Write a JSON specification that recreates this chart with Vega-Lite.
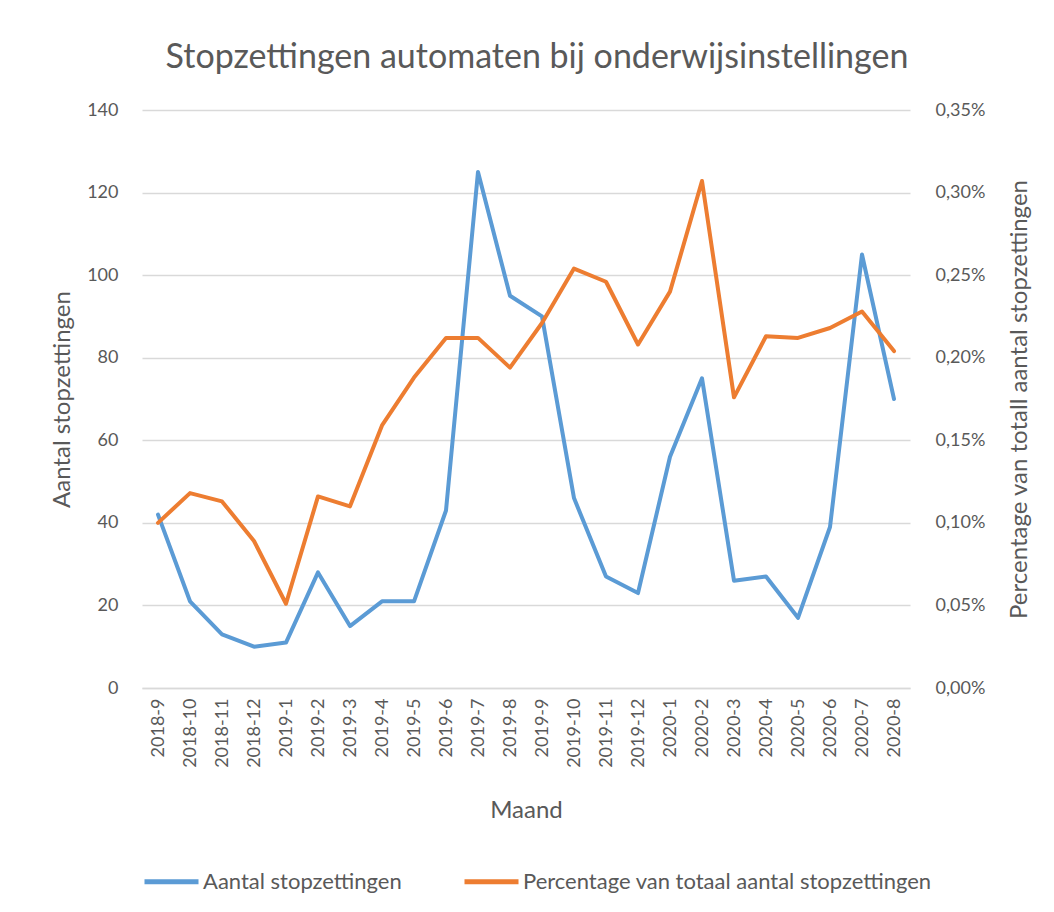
{
  "$schema": "https://vega.github.io/schema/vega-lite/v6.json",
  "width": 768,
  "height": 578,
  "autosize": "none",
  "padding": {"left": 142, "top": 110, "right": 144, "bottom": 224},
  "background": "white",
  "title": {
    "text": "Stopzettingen automaten bij onderwijsinstellingen",
    "fontSize": 34,
    "font": "Lato",
    "fontWeight": "normal",
    "color": "#595959",
    "anchor": "middle",
    "offset": 26,
    "dx": 11
  },
  "data": {
    "values": [
      {"maand": "2018-9", "aantal": 42, "pct": 0.00100},
      {"maand": "2018-10", "aantal": 21, "pct": 0.00118},
      {"maand": "2018-11", "aantal": 13, "pct": 0.00113},
      {"maand": "2018-12", "aantal": 10, "pct": 0.00089},
      {"maand": "2019-1", "aantal": 11, "pct": 0.00051},
      {"maand": "2019-2", "aantal": 28, "pct": 0.00116},
      {"maand": "2019-3", "aantal": 15, "pct": 0.00110},
      {"maand": "2019-4", "aantal": 21, "pct": 0.00159},
      {"maand": "2019-5", "aantal": 21, "pct": 0.00188},
      {"maand": "2019-6", "aantal": 43, "pct": 0.00212},
      {"maand": "2019-7", "aantal": 125, "pct": 0.00212},
      {"maand": "2019-8", "aantal": 95, "pct": 0.00194},
      {"maand": "2019-9", "aantal": 90, "pct": 0.00221},
      {"maand": "2019-10", "aantal": 46, "pct": 0.00254},
      {"maand": "2019-11", "aantal": 27, "pct": 0.00246},
      {"maand": "2019-12", "aantal": 23, "pct": 0.00208},
      {"maand": "2020-1", "aantal": 56, "pct": 0.00240},
      {"maand": "2020-2", "aantal": 75, "pct": 0.00307},
      {"maand": "2020-3", "aantal": 26, "pct": 0.00176},
      {"maand": "2020-4", "aantal": 27, "pct": 0.00213},
      {"maand": "2020-5", "aantal": 17, "pct": 0.00212},
      {"maand": "2020-6", "aantal": 39, "pct": 0.00218},
      {"maand": "2020-7", "aantal": 105, "pct": 0.00228},
      {"maand": "2020-8", "aantal": 70, "pct": 0.00204}
    ]
  },
  "encoding": {
    "x": {
      "field": "maand",
      "type": "ordinal",
      "sort": null,
      "scale": {"padding": 0.5},
      "title": "Maand",
      "axis": {
        "labelAngle": 270,
        "labelPadding": 10,
        "titlePadding": 31,
        "ticks": false,
        "domainColor": "#d9d9d9",
        "domainWidth": 1.5,
        "grid": false
      }
    }
  },
  "layer": [
    {
      "mark": {"type": "line", "strokeWidth": 4, "strokeJoin": "round", "strokeCap": "round"},
      "encoding": {
        "y": {
          "field": "aantal",
          "type": "quantitative",
          "scale": {"domain": [0, 140]},
          "title": "Aantal stopzettingen",
          "axis": {
            "values": [0, 20, 40, 60, 80, 100, 120, 140],
            "orient": "left",
            "grid": true,
            "gridColor": "#d9d9d9",
            "gridWidth": 1.5,
            "domain": false,
            "ticks": false,
            "labelPadding": 24,
            "titlePadding": 12
          }
        },
        "color": {
          "datum": "Aantal stopzettingen",
          "type": "nominal",
          "scale": {
            "domain": ["Aantal stopzettingen", "Percentage van totaal aantal stopzettingen"],
            "range": ["#5B9BD5", "#ED7D31"]
          },
          "legend": {
            "orient": "none",
            "legendX": 0,
            "legendY": 742,
            "direction": "horizontal",
            "title": null,
            "symbolType": "stroke",
            "symbolSize": 2916,
            "symbolStrokeWidth": 5,
            "labelOffset": 2,
            "labelLimit": 0,
            "columnPadding": 52,
            "padding": 0
          }
        }
      }
    },
    {
      "mark": {"type": "line", "strokeWidth": 4, "strokeJoin": "round", "strokeCap": "round"},
      "encoding": {
        "y": {
          "field": "pct",
          "type": "quantitative",
          "scale": {"domain": [0, 0.0035]},
          "title": "Percentage van totall aantal stopzettingen",
          "axis": {
            "orient": "right",
            "values": [0, 0.0005, 0.001, 0.0015, 0.002, 0.0025, 0.003, 0.0035],
            "labelExpr": "replace(format(datum.value, '.2%'), '.', ',')",
            "grid": false,
            "domain": false,
            "ticks": false,
            "labelPadding": 25,
            "titleAngle": 270,
            "titlePadding": 47
          }
        },
        "color": {"datum": "Percentage van totaal aantal stopzettingen", "type": "nominal"}
      }
    }
  ],
  "resolve": {"scale": {"y": "independent"}},
  "config": {
    "font": "Lato",
    "view": {"stroke": null},
    "axis": {
      "labelFont": "Lato",
      "labelFontSize": 18,
      "labelColor": "#595959",
      "titleFont": "Lato",
      "titleFontSize": 24,
      "titleFontWeight": "normal",
      "titleColor": "#595959"
    },
    "legend": {
      "labelFont": "Lato",
      "labelFontSize": 22,
      "labelColor": "#595959"
    }
  }
}
